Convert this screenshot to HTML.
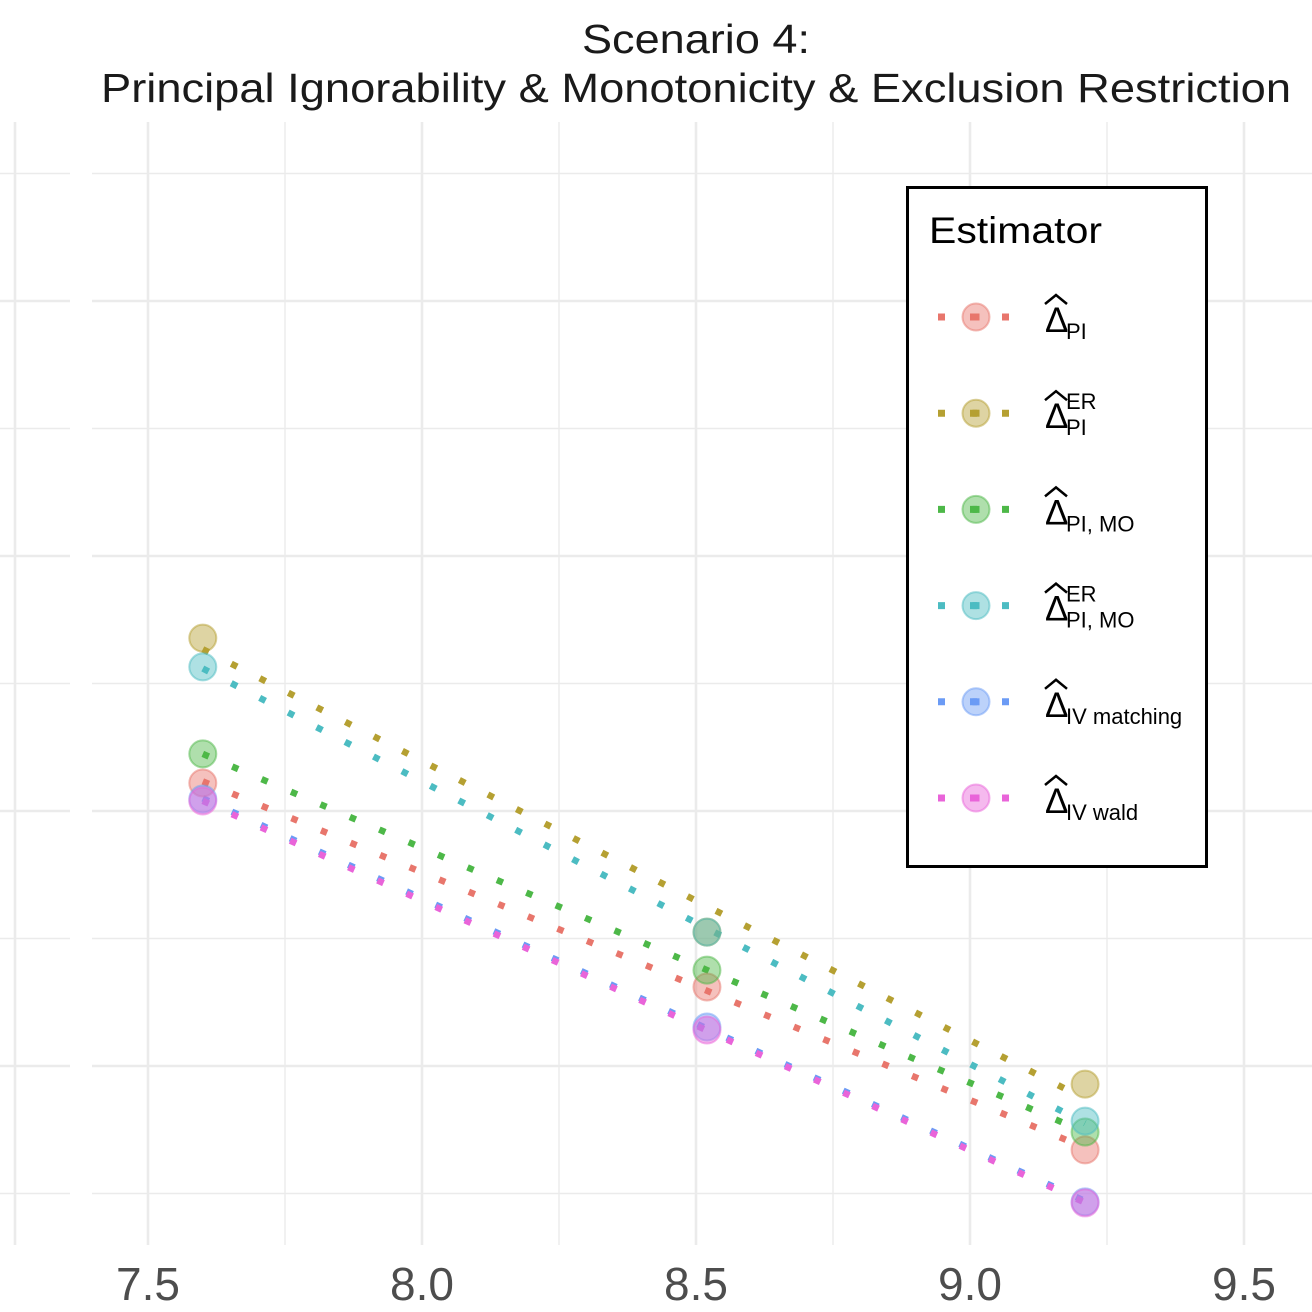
<!DOCTYPE html>
<html><head><meta charset="utf-8"><style>
html,body{margin:0;padding:0;background:#fff;}
svg{display:block;font-family:"Liberation Sans",Arial,sans-serif;}
</style></head><body>
<svg id="chart" width="1312" height="1312" viewBox="0 0 1312 1312" xmlns="http://www.w3.org/2000/svg">
<g id="grid"></g>
<g id="series"></g>
<g id="xticks"></g>
<text x="696" y="53" font-size="41" text-anchor="middle" fill="#1a1a1a" textLength="228" lengthAdjust="spacingAndGlyphs">Scenario 4:</text>
<text x="696" y="102" font-size="41" text-anchor="middle" fill="#1a1a1a" textLength="1190" lengthAdjust="spacingAndGlyphs">Principal Ignorability &amp; Monotonicity &amp; Exclusion Restriction</text>
<g id="legend">
<rect x="907.5" y="187.5" width="299" height="679" fill="#fff" stroke="#000" stroke-width="3"/>
<text x="929" y="243" font-size="37" fill="#000" textLength="173" lengthAdjust="spacingAndGlyphs">Estimator</text>
</g>
</svg>
<script>
const xValues = [7.6, 8.52, 9.21];
const seriesNames = ["PI", "PI_ER", "PI_MO", "PI_MO_ER", "IV_matching", "IV_wald"];
const colors = ["#E8766C", "#B5A032", "#4DB848", "#4CBCC2", "#6B9BF5", "#E964D9"];
const valsPI = [2.110, 1.310, 0.671];
const valsPI_ER = [2.678, 1.525, 0.929];
const valsPI_MO = [2.224, 1.376, 0.741];
const valsPI_MO_ER = [2.565, 1.525, 0.784];
const valsIV_matching = [2.047, 1.153, 0.467];
const valsIV_wald = [2.039, 1.141, 0.463];
const xTicks = [7.5, 8.0, 8.5, 9.0, 9.5];
const xTickLabels = ["7.5", "8.0", "8.5", "9.0", "9.5"];
const yMajor = [1, 2, 3, 4];
const yMinor = [0.5, 1.5, 2.5, 3.5, 4.5];

const NS = "http://www.w3.org/2000/svg";
const sx = v => 148 + (v - 7.5) * 548;
const sy = v => 1066 - (v - 1) * 255;
function mk(tag, attrs, parent){const e=document.createElementNS(NS,tag);for(const k in attrs)e.setAttribute(k,attrs[k]);parent.appendChild(e);return e;}

const grid = document.getElementById("grid");
[[yMajor,2.6],[yMinor,1.4]].forEach(([arr,w])=>arr.forEach(v=>{
  const l1 = mk("line",{x1:92,x2:1312,y1:sy(v),y2:sy(v),stroke:"#ebebeb","stroke-width":w},grid);
  
  
  const l2 = mk("line",{x1:0,x2:70,y1:sy(v),y2:sy(v),stroke:"#ebebeb","stroke-width":w},grid);
  
  
}));
for(let v=7.5; v<=9.5001; v+=0.25){
  const major = Math.abs(v*2-Math.round(v*2))<1e-6;
  const l = mk("line",{x1:sx(v),x2:sx(v),y1:122,y2:1245,stroke:"#ebebeb","stroke-width":major?2.6:1.4},grid);
  
  
}
const lv = mk("line",{x1:15,x2:15,y1:122,y2:1245,stroke:"#ebebeb","stroke-width":2.6},grid);



const xt = document.getElementById("xticks");
xTicks.forEach((v,i)=>{
  const t = mk("text",{x:sx(v),y:1300,"font-size":46,"text-anchor":"middle",fill:"#4d4d4d"},xt);
  t.textContent = xTickLabels[i];
  
  
});

const allVals = [valsPI, valsPI_ER, valsPI_MO, valsPI_MO_ER, valsIV_matching, valsIV_wald];
const sg = document.getElementById("series");
allVals.forEach((vals,si)=>{
  const n=xValues.length; let mx=0,my=0;
  for(let i=0;i<n;i++){mx+=xValues[i];my+=vals[i];} mx/=n; my/=n;
  let sxx=0,sxy=0; for(let i=0;i<n;i++){sxx+=(xValues[i]-mx)**2;sxy+=(xValues[i]-mx)*(vals[i]-my);}
  const b=sxy/sxx, a=my-b*mx;
  const x0=xValues[0], x1=xValues[n-1];
  const l = mk("line",{x1:sx(x0),y1:sy(a+b*x0),x2:sx(x1),y2:sy(a+b*x1),stroke:colors[si],"stroke-width":6.5,"stroke-dasharray":"6.5 25.5"},sg);
  
  
});
allVals.forEach((vals,si)=>{
  vals.forEach((v,i)=>{
    const c = mk("circle",{cx:sx(xValues[i]),cy:sy(v),r:13.5,fill:colors[si],"fill-opacity":0.45,stroke:colors[si],"stroke-opacity":0.5,"stroke-width":2},sg);
    
    
  });
});

const lg = document.getElementById("legend");
const subs = ["PI","PI","PI, MO","PI, MO","IV matching","IV wald"];
const sups = ["","ER","","ER","",""];
subs.forEach((s,i)=>{
  const y = 317 + i*96.2;
  const g = mk("g",{},lg);
  
  
  mk("line",{x1:938,x2:1010,y1:y,y2:y,stroke:colors[i],"stroke-width":7,"stroke-dasharray":"7 25"},g);
  mk("circle",{cx:976,cy:y,r:13.5,fill:colors[i],"fill-opacity":0.45,stroke:colors[i],"stroke-opacity":0.5,"stroke-width":2},g);
  mk("rect",{x:972.5,y:y-3.5,width:7,height:7,fill:colors[i]},g);
  const d = mk("text",{x:1045,y:y+15,"font-size":35,fill:"#000"},g); d.textContent="Δ";
  mk("path",{d:`M1045 ${y-13} L1056 ${y-22} L1067 ${y-13}`,fill:"none",stroke:"#000","stroke-width":2.5},g);
  const sb = mk("text",{x:1066,y:y+22,"font-size":22,fill:"#000"},g); sb.textContent=s;
  if(sups[i]){const sp = mk("text",{x:1066,y:y-4,"font-size":22,fill:"#000"},g); sp.textContent=sups[i];}
});
</script>
</body></html>
